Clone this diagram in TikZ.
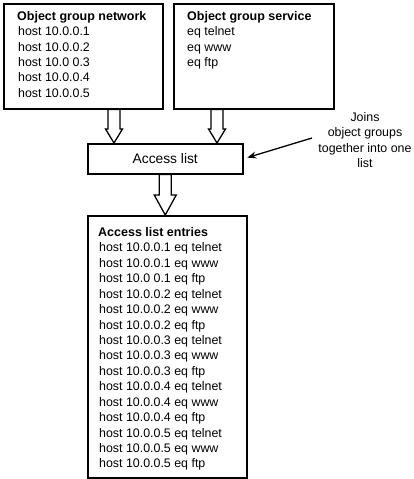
\documentclass[tikz,border=0pt]{standalone}
\usepackage{fontspec}
\setmainfont{Liberation Sans}
\usetikzlibrary{calc,arrows.meta}
\tikzset{
  box/.style={draw, line width=1.5pt, rectangle, inner sep=0pt, anchor=north west},
  txt/.style={anchor=base west, inner sep=0pt, font=\fontsize{12.4}{14.8}\selectfont},
  hd/.style={anchor=base west, inner sep=0pt, font=\fontsize{12.5}{15}\selectfont\bfseries},
  blk/.style={draw, line width=1.3pt, fill=white, line join=miter},
}
% block arrow: #1 start, #2 end, #3 head half width, #4 head length
\newcommand\blockarrow[4]{%
  \draw[blk] let \p1=(#1), \p2=(#2) in
    (\x1-6pt,\y1) -- (\x1+6pt,\y1) -- (\x1+6pt,\y2+#4) -- (\x1+#3,\y2+#4) --
    (\x1,\y2) -- (\x1-#3,\y2+#4) -- (\x1-6pt,\y2+#4) -- cycle;}
\begin{document}
\begin{tikzpicture}[x=1pt,y=-1pt]
\useasboundingbox (0,0) rectangle (414,479);
% boxes
\node[box, minimum width=159pt, minimum height=105pt] (net) at (3,3) {};
\node[box, minimum width=160pt, minimum height=105pt] (svc) at (173,3) {};
\node[box, minimum width=155pt, minimum height=30pt] (acc) at (87,143) {};
\node[font=\fontsize{13.8}{16}\selectfont] (acct) at (acc.center) {Access list};
\node[box, minimum width=159pt, minimum height=262pt] (ent) at (87,215) {};
% network group
\node[hd] (neth) at (17,20.5) {Object group network};
\foreach \t [count=\i] in {host 10.0.0.1, host 10.0.0.2, host 10.0 0.3, host 10.0.0.4, host 10.0.0.5}
  \node[txt] (net\i) at (18,{20.5+15.3*\i}) {\t};
% service group
\node[hd] (svch) at (187,20.5) {Object group service};
\foreach \t [count=\i] in {eq telnet, eq www, eq ftp}
  \node[txt] (svc\i) at (187,{20.5+15.3*\i}) {\t};
% entries
\node[hd] (enth) at (98,236.5) {Access list entries};
\foreach \t [count=\i] in {host 10.0.0.1 eq telnet, host 10.0.0.1 eq www, host 10.0 0.1 eq ftp,
  host 10.0.0.2 eq telnet, host 10.0.0.2 eq www, host 10.0.0.2 eq ftp,
  host 10.0.0.3 eq telnet, host 10.0.0.3 eq www, host 10.0.0.3 eq ftp,
  host 10.0.0.4 eq telnet, host 10.0.0.4 eq www, host 10.0.0.4 eq ftp,
  host 10.0.0.5 eq telnet, host 10.0.0.5 eq www, host 10.0.0.5 eq ftp}
  \node[txt] (ent\i) at (99,{236.5+15.43*\i}) {\t};
% block arrows
\blockarrow{$(net.south west)+(111,0)$}{$(acc.north west)+(27,0)$}{8.5pt}{14pt}
\blockarrow{$(svc.south west)+(44,0)$}{$(acc.north west)+(130,0)$}{8.5pt}{14pt}
\blockarrow{acc.south}{ent.north -| acc.south}{11pt}{20pt}
% annotation
\node[align=center, inner sep=0pt, font=\fontsize{12.4}{15.3}\selectfont] (ann) at (365,140)
  {Joins\\object groups\\together into one\\list};
\coordinate (annpt) at (312,138);
\draw[line width=1.3pt, -{Stealth[length=9pt,width=7pt]}, shorten >=4pt] (annpt) -- (acc.east);
\end{tikzpicture}
\end{document}
